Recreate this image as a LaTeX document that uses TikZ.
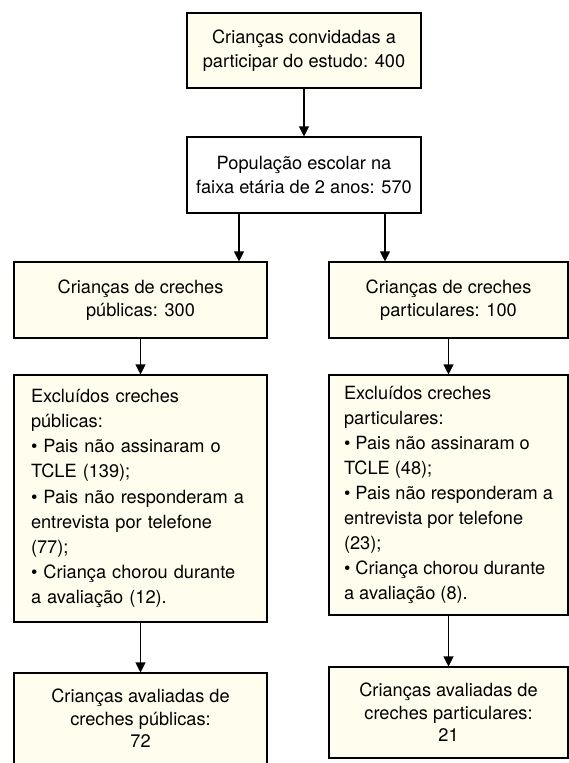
\documentclass[tikz,border=0pt]{standalone}
\usepackage{fontspec}
\setmainfont{TeX Gyre Heros}
\usetikzlibrary{arrows.meta}
\definecolor{cream}{RGB}{255,254,238}
\begin{document}
\begin{tikzpicture}[x=1pt,y=-1pt,
  box/.style={draw=black, line width=1.1pt, fill=cream, align=center, inner sep=0pt,
    font=\fontsize{18.2}{23.5}\selectfont},
  listbox/.style={box, align=left, font=\fontsize{18.2}{25.1}\selectfont},
  endbox/.style={box, font=\fontsize{18.2}{22.5}\selectfont},
  arr/.style={line width=1.1pt, -{Triangle[width=10pt,length=10pt]}}]
\useasboundingbox (0,0) rectangle (569,763);

\node[box, minimum width=234pt, minimum height=75pt] (b1) at (304,50.5)
  {Crianças convidadas a\\participar do estudo: 400};
\node[box, fill=white, minimum width=234pt, minimum height=76pt] (b2) at (304,175)
  {População escolar na\\faixa etária de 2 anos: 570};

\node[box, minimum width=253pt, minimum height=76pt] (b3l) at (140.5,300)
  {Crianças de creches\\públicas: 300};
\node[box, minimum width=239pt, minimum height=76pt] (b3r) at (448.5,300)
  {Crianças de creches\\particulares: 100};

\node[listbox, text width=219pt, inner xsep=17pt, minimum height=247pt] (b4l) at (140.5,498.5)
  {Excluídos creches\\públicas:\\• Pais não assinaram o\\TCLE (139);\\• Pais não responderam a\\entrevista por telefone\\(77);\\• Criança chorou durante\\a avaliação (12).};
\node[listbox, minimum width=239pt, minimum height=240pt] (b4r) at (448.5,495)
  {Excluídos creches\\particulares:\\• Pais não assinaram o\\TCLE (48);\\• Pais não responderam a\\entrevista por telefone\\(23);\\• Criança chorou durante\\a avaliação (8).};

\node[endbox, minimum width=253pt, minimum height=91pt] (b5l) at (140.5,718.5)
  {Crianças avaliadas de\\creches públicas:\\72};
\node[endbox, minimum width=239pt, minimum height=91pt] (b5r) at (448.5,712.5)
  {Crianças avaliadas de\\creches particulares:\\21};

\draw[arr] (b1) -- (b2);
\draw[arr] ([xshift=-65pt]b2.south) -- ([xshift=-65pt]b2.south |- b3l.north);
\draw[arr] ([xshift=81pt]b2.south) -- ([xshift=81pt]b2.south |- b3r.north);
\draw[arr] (b3l) -- (b4l);
\draw[arr] (b3r) -- (b4r);
\draw[arr] (b4l) -- (b5l);
\draw[arr] (b4r) -- (b5r);
\end{tikzpicture}
\end{document}
